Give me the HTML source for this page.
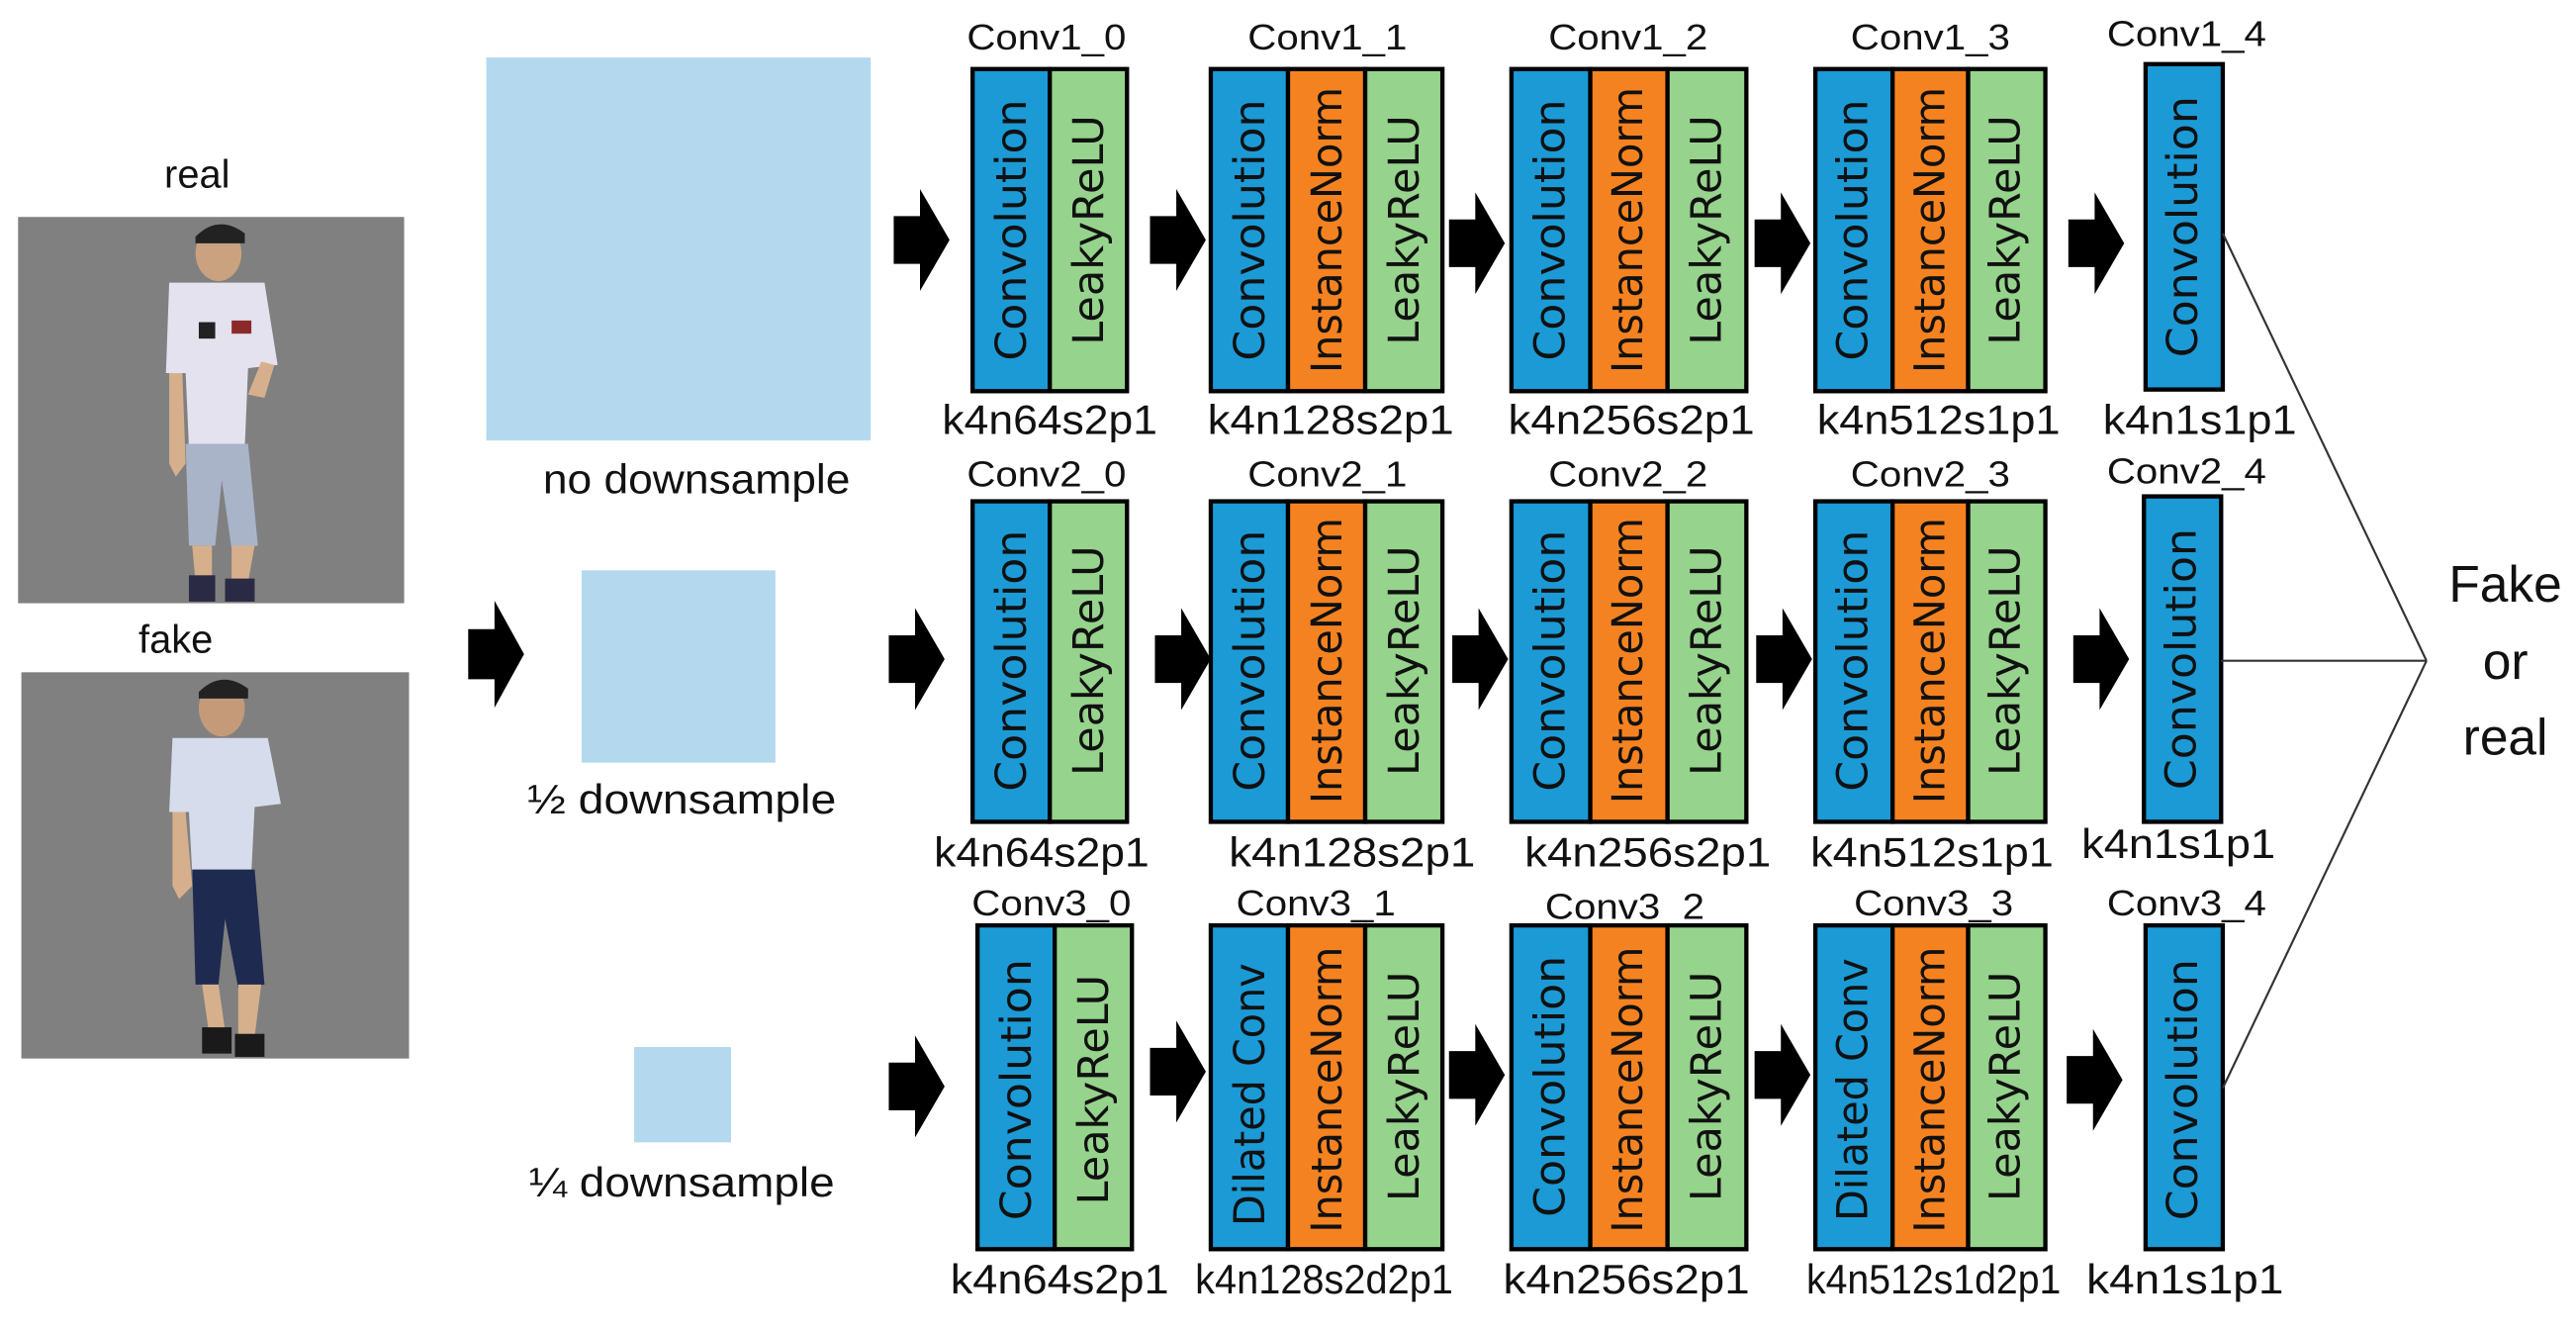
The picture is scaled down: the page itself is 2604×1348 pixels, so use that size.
<!DOCTYPE html>
<html><head><meta charset="utf-8"><style>
html,body{margin:0;padding:0;background:#fff;}
svg{display:block;}
.lb{font-family:"Liberation Sans",sans-serif;fill:#111;}
.bt{font-family:"DejaVu Sans","Liberation Sans",sans-serif;fill:#111;}
</style></head><body>
<svg width="2604" height="1348" viewBox="0 0 1568 811.6" preserveAspectRatio="none" xmlns="http://www.w3.org/2000/svg">
<rect width="1568" height="812" fill="#fff"/>
<defs>
<g id="arr"><polygon points="0,-14.5 16,-14.5 16,-31 34,0 16,31 16,14.5 0,14.5" fill="#000"/></g>
</defs>

<text class="lb" x="120" y="114" font-size="24" text-anchor="middle">real</text>
<rect x="11" y="132" width="235" height="235" fill="#808080"/>
<g transform="translate(11,132)">
 <ellipse cx="122" cy="22" rx="14" ry="17" fill="#caa27f"/>
 <path d="M108,12 Q122,-2 138,10 L138,16 L108,16Z" fill="#222"/>
 <path d="M92,40 L150,40 L158,90 L140,92 L138,140 L104,140 L102,95 L90,95Z" fill="#e4e2ee"/>
 <rect x="110" y="64" width="10" height="10" fill="#222"/>
 <rect x="130" y="63" width="12" height="8" fill="#8a2a2a"/>
 <path d="M92,95 L100,95 L102,150 L96,158 L92,150Z" fill="#d6b08c"/>
 <path d="M148,88 L156,90 L150,110 L140,108Z" fill="#d6b08c"/>
 <path d="M102,138 L140,138 L146,200 L130,202 L124,160 L120,200 L104,200Z" fill="#a9b4c9"/>
 <path d="M106,200 L118,200 L118,222 L108,222Z" fill="#d6b08c"/>
 <path d="M130,200 L144,200 L140,222 L130,222Z" fill="#d6b08c"/>
 <rect x="104" y="218" width="16" height="16" fill="#2a2a44"/>
 <rect x="126" y="220" width="18" height="14" fill="#2a2a44"/>
</g>
<text class="lb" x="107" y="397" font-size="24" text-anchor="middle">fake</text>
<rect x="13" y="409" width="236" height="235" fill="#808080"/>
<g transform="translate(13,409)">
 <ellipse cx="122" cy="22" rx="14" ry="17" fill="#c49a78"/>
 <path d="M108,12 Q122,-2 138,10 L138,16 L108,16Z" fill="#222"/>
 <path d="M92,40 L150,40 L158,80 L142,82 L140,122 L104,122 L102,85 L90,85Z" fill="#d7dcec"/>
 <path d="M92,85 L100,85 L104,130 L96,138 L92,130Z" fill="#d6b08c"/>
 <path d="M104,120 L142,120 L148,190 L132,192 L124,150 L120,190 L106,190Z" fill="#1f2a50"/>
 <path d="M110,190 L120,190 L124,218 L114,218Z" fill="#d6b08c"/>
 <path d="M132,190 L146,190 L142,222 L132,222Z" fill="#d6b08c"/>
 <rect x="110" y="216" width="18" height="16" fill="#1a1a1a"/>
 <rect x="130" y="220" width="18" height="14" fill="#1a1a1a"/>
</g>

<use href="#arr" transform="translate(285,398) scale(1,1.05)"/>

<rect x="296" y="35" width="234" height="233" fill="#b4d9ef"/>
<text class="lb" x="424" y="300" font-size="25" text-anchor="middle" textLength="187" lengthAdjust="spacingAndGlyphs">no downsample</text>
<rect x="354" y="347" width="118" height="117" fill="#b4d9ef"/>
<text class="lb" x="415" y="495" font-size="25" text-anchor="middle" textLength="188" lengthAdjust="spacingAndGlyphs">½  downsample</text>
<rect x="386" y="637" width="59" height="58" fill="#b4d9ef"/>
<text class="lb" x="415" y="728" font-size="25" text-anchor="middle" textLength="186" lengthAdjust="spacingAndGlyphs">¼ downsample</text>

<g>
<text class="lb" x="637" y="30" font-size="22" text-anchor="middle" textLength="97" lengthAdjust="spacingAndGlyphs">Conv1_0</text>
<text class="lb" x="808" y="30" font-size="22" text-anchor="middle" textLength="97" lengthAdjust="spacingAndGlyphs">Conv1_1</text>
<text class="lb" x="991" y="30" font-size="22" text-anchor="middle" textLength="97" lengthAdjust="spacingAndGlyphs">Conv1_2</text>
<text class="lb" x="1175" y="30" font-size="22" text-anchor="middle" textLength="97" lengthAdjust="spacingAndGlyphs">Conv1_3</text>
<text class="lb" x="1331" y="28" font-size="22" text-anchor="middle" textLength="97" lengthAdjust="spacingAndGlyphs">Conv1_4</text>
<text class="lb" x="639" y="264" font-size="25" text-anchor="middle" textLength="131" lengthAdjust="spacingAndGlyphs">k4n64s2p1</text>
<text class="lb" x="810" y="264" font-size="25" text-anchor="middle" textLength="150" lengthAdjust="spacingAndGlyphs">k4n128s2p1</text>
<text class="lb" x="993" y="264" font-size="25" text-anchor="middle" textLength="150" lengthAdjust="spacingAndGlyphs">k4n256s2p1</text>
<text class="lb" x="1180" y="264" font-size="25" text-anchor="middle" textLength="148" lengthAdjust="spacingAndGlyphs">k4n512s1p1</text>
<text class="lb" x="1339" y="264" font-size="25" text-anchor="middle" textLength="118" lengthAdjust="spacingAndGlyphs">k4n1s1p1</text>
</g>

<text class="lb" x="637" y="296" font-size="22" text-anchor="middle" textLength="97" lengthAdjust="spacingAndGlyphs">Conv2_0</text>
<text class="lb" x="808" y="296" font-size="22" text-anchor="middle" textLength="97" lengthAdjust="spacingAndGlyphs">Conv2_1</text>
<text class="lb" x="991" y="296" font-size="22" text-anchor="middle" textLength="97" lengthAdjust="spacingAndGlyphs">Conv2_2</text>
<text class="lb" x="1175" y="296" font-size="22" text-anchor="middle" textLength="97" lengthAdjust="spacingAndGlyphs">Conv2_3</text>
<text class="lb" x="1331" y="294" font-size="22" text-anchor="middle" textLength="97" lengthAdjust="spacingAndGlyphs">Conv2_4</text>
<text class="lb" x="634" y="527" font-size="25" text-anchor="middle" textLength="131" lengthAdjust="spacingAndGlyphs">k4n64s2p1</text>
<text class="lb" x="823" y="527" font-size="25" text-anchor="middle" textLength="150" lengthAdjust="spacingAndGlyphs">k4n128s2p1</text>
<text class="lb" x="1003" y="527" font-size="25" text-anchor="middle" textLength="150" lengthAdjust="spacingAndGlyphs">k4n256s2p1</text>
<text class="lb" x="1176" y="527" font-size="25" text-anchor="middle" textLength="148" lengthAdjust="spacingAndGlyphs">k4n512s1p1</text>
<text class="lb" x="1326" y="522" font-size="25" text-anchor="middle" textLength="118" lengthAdjust="spacingAndGlyphs">k4n1s1p1</text>

<text class="lb" x="640" y="557" font-size="22" text-anchor="middle" textLength="97" lengthAdjust="spacingAndGlyphs">Conv3_0</text>
<text class="lb" x="801" y="557" font-size="22" text-anchor="middle" textLength="97" lengthAdjust="spacingAndGlyphs">Conv3_1</text>
<text class="lb" x="989" y="559" font-size="22" text-anchor="middle" textLength="97" lengthAdjust="spacingAndGlyphs">Conv3_2</text>
<text class="lb" x="1177" y="557" font-size="22" text-anchor="middle" textLength="97" lengthAdjust="spacingAndGlyphs">Conv3_3</text>
<text class="lb" x="1331" y="557" font-size="22" text-anchor="middle" textLength="97" lengthAdjust="spacingAndGlyphs">Conv3_4</text>
<text class="lb" x="645" y="787" font-size="25" text-anchor="middle" textLength="133" lengthAdjust="spacingAndGlyphs">k4n64s2p1</text>
<text class="lb" x="806" y="787" font-size="25" text-anchor="middle" textLength="157" lengthAdjust="spacingAndGlyphs">k4n128s2d2p1</text>
<text class="lb" x="990" y="787" font-size="25" text-anchor="middle" textLength="150" lengthAdjust="spacingAndGlyphs">k4n256s2p1</text>
<text class="lb" x="1177" y="787" font-size="25" text-anchor="middle" textLength="155" lengthAdjust="spacingAndGlyphs">k4n512s1d2p1</text>
<text class="lb" x="1330" y="787" font-size="25" text-anchor="middle" textLength="120" lengthAdjust="spacingAndGlyphs">k4n1s1p1</text>

<use href="#arr" transform="translate(544,146)"/>
<use href="#arr" transform="translate(700,146)"/>
<use href="#arr" transform="translate(882,148)"/>
<use href="#arr" transform="translate(1068,148)"/>
<use href="#arr" transform="translate(1259,148)"/>
<use href="#arr" transform="translate(541,401)"/>
<use href="#arr" transform="translate(703,401)"/>
<use href="#arr" transform="translate(884,401)"/>
<use href="#arr" transform="translate(1069,401)"/>
<use href="#arr" transform="translate(1262,401)"/>
<use href="#arr" transform="translate(541,661)"/>
<use href="#arr" transform="translate(700,652)"/>
<use href="#arr" transform="translate(882,654)"/>
<use href="#arr" transform="translate(1068,654)"/>
<use href="#arr" transform="translate(1258,657)"/>

<g stroke="#000" stroke-width="2.6">
<rect x="592" y="42" width="47" height="196" fill="#1b9ad6"/><rect x="639" y="42" width="47" height="196" fill="#96d38c"/>
<rect x="737" y="42" width="47" height="196" fill="#1b9ad6"/><rect x="784" y="42" width="47" height="196" fill="#f58220"/><rect x="831" y="42" width="47" height="196" fill="#96d38c"/>
<rect x="920" y="42" width="48" height="196" fill="#1b9ad6"/><rect x="968" y="42" width="47" height="196" fill="#f58220"/><rect x="1015" y="42" width="48" height="196" fill="#96d38c"/>
<rect x="1105" y="42" width="47" height="196" fill="#1b9ad6"/><rect x="1152" y="42" width="46" height="196" fill="#f58220"/><rect x="1198" y="42" width="47" height="196" fill="#96d38c"/>
<rect x="1306" y="39" width="47" height="198" fill="#1b9ad6"/>
<rect x="592" y="305" width="47" height="195" fill="#1b9ad6"/><rect x="639" y="305" width="47" height="195" fill="#96d38c"/>
<rect x="737" y="305" width="47" height="195" fill="#1b9ad6"/><rect x="784" y="305" width="47" height="195" fill="#f58220"/><rect x="831" y="305" width="47" height="195" fill="#96d38c"/>
<rect x="920" y="305" width="48" height="195" fill="#1b9ad6"/><rect x="968" y="305" width="47" height="195" fill="#f58220"/><rect x="1015" y="305" width="48" height="195" fill="#96d38c"/>
<rect x="1105" y="305" width="47" height="195" fill="#1b9ad6"/><rect x="1152" y="305" width="46" height="195" fill="#f58220"/><rect x="1198" y="305" width="47" height="195" fill="#96d38c"/>
<rect x="1305" y="302" width="47" height="198" fill="#1b9ad6"/>
<rect x="595" y="563" width="47" height="197" fill="#1b9ad6"/><rect x="642" y="563" width="47" height="197" fill="#96d38c"/>
<rect x="737" y="563" width="47" height="197" fill="#1b9ad6"/><rect x="784" y="563" width="47" height="197" fill="#f58220"/><rect x="831" y="563" width="47" height="197" fill="#96d38c"/>
<rect x="920" y="563" width="48" height="197" fill="#1b9ad6"/><rect x="968" y="563" width="47" height="197" fill="#f58220"/><rect x="1015" y="563" width="48" height="197" fill="#96d38c"/>
<rect x="1105" y="563" width="47" height="197" fill="#1b9ad6"/><rect x="1152" y="563" width="46" height="197" fill="#f58220"/><rect x="1198" y="563" width="47" height="197" fill="#96d38c"/>
<rect x="1306" y="563" width="47" height="197" fill="#1b9ad6"/>
</g>

<g class="bt" font-size="26" text-anchor="middle" dominant-baseline="central">
<text transform="translate(616,140) rotate(-90)" textLength="159" lengthAdjust="spacingAndGlyphs">Convolution</text>
<text transform="translate(663,140) rotate(-90)" textLength="140" lengthAdjust="spacingAndGlyphs">LeakyReLU</text>
<text transform="translate(761,140) rotate(-90)" textLength="159" lengthAdjust="spacingAndGlyphs">Convolution</text>
<text transform="translate(808,140) rotate(-90)" textLength="174" lengthAdjust="spacingAndGlyphs">InstanceNorm</text>
<text transform="translate(855,140) rotate(-90)" textLength="140" lengthAdjust="spacingAndGlyphs">LeakyReLU</text>
<text transform="translate(944,140) rotate(-90)" textLength="159" lengthAdjust="spacingAndGlyphs">Convolution</text>
<text transform="translate(991,140) rotate(-90)" textLength="174" lengthAdjust="spacingAndGlyphs">InstanceNorm</text>
<text transform="translate(1039,140) rotate(-90)" textLength="140" lengthAdjust="spacingAndGlyphs">LeakyReLU</text>
<text transform="translate(1128,140) rotate(-90)" textLength="159" lengthAdjust="spacingAndGlyphs">Convolution</text>
<text transform="translate(1175,140) rotate(-90)" textLength="174" lengthAdjust="spacingAndGlyphs">InstanceNorm</text>
<text transform="translate(1221,140) rotate(-90)" textLength="140" lengthAdjust="spacingAndGlyphs">LeakyReLU</text>
<text transform="translate(1329,138) rotate(-90)" textLength="159" lengthAdjust="spacingAndGlyphs">Convolution</text>
<text transform="translate(616,402) rotate(-90)" textLength="159" lengthAdjust="spacingAndGlyphs">Convolution</text>
<text transform="translate(663,402) rotate(-90)" textLength="140" lengthAdjust="spacingAndGlyphs">LeakyReLU</text>
<text transform="translate(761,402) rotate(-90)" textLength="159" lengthAdjust="spacingAndGlyphs">Convolution</text>
<text transform="translate(808,402) rotate(-90)" textLength="174" lengthAdjust="spacingAndGlyphs">InstanceNorm</text>
<text transform="translate(855,402) rotate(-90)" textLength="140" lengthAdjust="spacingAndGlyphs">LeakyReLU</text>
<text transform="translate(944,402) rotate(-90)" textLength="159" lengthAdjust="spacingAndGlyphs">Convolution</text>
<text transform="translate(991,402) rotate(-90)" textLength="174" lengthAdjust="spacingAndGlyphs">InstanceNorm</text>
<text transform="translate(1039,402) rotate(-90)" textLength="140" lengthAdjust="spacingAndGlyphs">LeakyReLU</text>
<text transform="translate(1128,402) rotate(-90)" textLength="159" lengthAdjust="spacingAndGlyphs">Convolution</text>
<text transform="translate(1175,402) rotate(-90)" textLength="174" lengthAdjust="spacingAndGlyphs">InstanceNorm</text>
<text transform="translate(1221,402) rotate(-90)" textLength="140" lengthAdjust="spacingAndGlyphs">LeakyReLU</text>
<text transform="translate(1328,401) rotate(-90)" textLength="159" lengthAdjust="spacingAndGlyphs">Convolution</text>
<text transform="translate(619,663) rotate(-90)" textLength="159" lengthAdjust="spacingAndGlyphs">Convolution</text>
<text transform="translate(666,663) rotate(-90)" textLength="140" lengthAdjust="spacingAndGlyphs">LeakyReLU</text>
<text transform="translate(761,666) rotate(-90)" textLength="160" lengthAdjust="spacingAndGlyphs">Dilated Conv</text>
<text transform="translate(808,663) rotate(-90)" textLength="174" lengthAdjust="spacingAndGlyphs">InstanceNorm</text>
<text transform="translate(855,661) rotate(-90)" textLength="140" lengthAdjust="spacingAndGlyphs">LeakyReLU</text>
<text transform="translate(944,661) rotate(-90)" textLength="159" lengthAdjust="spacingAndGlyphs">Convolution</text>
<text transform="translate(991,663) rotate(-90)" textLength="174" lengthAdjust="spacingAndGlyphs">InstanceNorm</text>
<text transform="translate(1039,661) rotate(-90)" textLength="140" lengthAdjust="spacingAndGlyphs">LeakyReLU</text>
<text transform="translate(1128,663) rotate(-90)" textLength="160" lengthAdjust="spacingAndGlyphs">Dilated Conv</text>
<text transform="translate(1175,663) rotate(-90)" textLength="174" lengthAdjust="spacingAndGlyphs">InstanceNorm</text>
<text transform="translate(1221,661) rotate(-90)" textLength="140" lengthAdjust="spacingAndGlyphs">LeakyReLU</text>
<text transform="translate(1329,663) rotate(-90)" textLength="159" lengthAdjust="spacingAndGlyphs">Convolution</text>
</g>

<g stroke="#333" stroke-width="1.3" fill="none">
<line x1="1353" y1="142" x2="1477" y2="402"/>
<line x1="1352" y1="402" x2="1477" y2="402"/>
<line x1="1353" y1="662" x2="1477" y2="402"/>
</g>
<g class="lb" font-size="31" text-anchor="middle">
<text x="1525" y="366">Fake</text>
<text x="1525" y="413">or</text>
<text x="1525" y="459">real</text>
</g>
</svg>
</body></html>
